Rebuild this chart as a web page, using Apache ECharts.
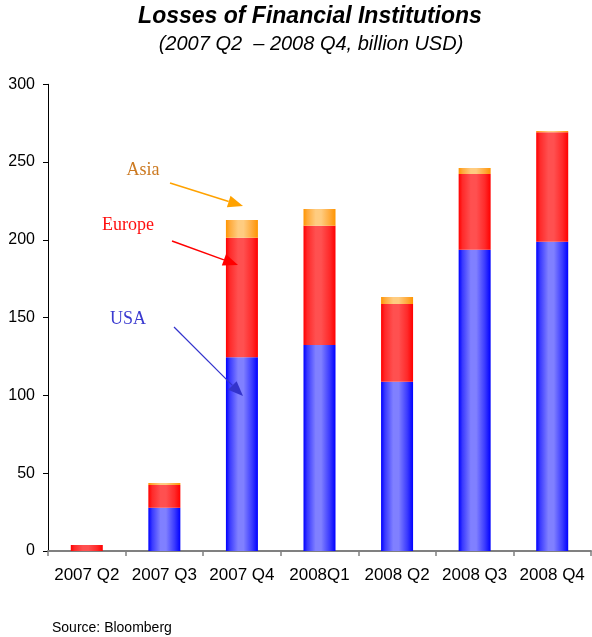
<!DOCTYPE html>
<html>
<head>
<meta charset="utf-8">
<title>Losses of Financial Institutions</title>
<script src="https://cdn.jsdelivr.net/npm/echarts@6/dist/echarts.min.js"></script>
<style>
  html, body { margin: 0; padding: 0; background: #ffffff; }
  #chart { width: 592px; height: 637px; }
</style>
</head>
<body>
<div id="chart"></div>
<script>
// Quarterly write-downs by region, billion USD
const quarters = ['2007 Q2', '2007 Q3', '2007 Q4', '2008Q1', '2008 Q2', '2008 Q3', '2008 Q4'];
const usa    = [0,    27.8, 124.5, 132.4, 108.8, 193.7, 198.8];
const europe = [3.9,  14.6,  76.9,  76.7,  50.0,  48.6,  70.3];
const asia   = [0,     1.3,  11.4,  10.7,   4.5,   3.9,   0.9];
const yTicks = [0, 50, 100, 150, 200, 250, 300];

const FONT = '"Liberation Sans", Arial, sans-serif';
const SERIF = '"Liberation Serif", "Times New Roman", serif';

// Horizontal "cylinder" shading used by every bar segment
function shade(edge, mid, light) {
  return new echarts.graphic.LinearGradient(0, 0, 1, 0, [
    { offset: 0.0, color: edge },
    { offset: 0.12, color: mid },
    { offset: 0.38, color: light },
    { offset: 0.55, color: light },
    { offset: 0.82, color: mid },
    { offset: 1.0, color: edge }
  ]);
}

// Callout arrow: shaft plus filled triangular head, drawn above the bars
function arrow(x1, y1, x2, y2, color, width, headLen, headHalf) {
  const dx = x2 - x1, dy = y2 - y1;
  const len = Math.sqrt(dx * dx + dy * dy);
  const ux = dx / len, uy = dy / len;
  const bx = x2 - ux * headLen, by = y2 - uy * headLen;
  const px = -uy * headHalf, py = ux * headHalf;
  return [
    { type: 'line', z: 100, shape: { x1: x1, y1: y1, x2: bx, y2: by },
      style: { stroke: color, lineWidth: width } },
    { type: 'polygon', z: 100, shape: { points: [[x2, y2], [bx + px, by + py], [bx - px, by - py]] },
      style: { fill: color } }
  ];
}

function label(text, x, y, font, fill, align) {
  return { type: 'text', z: 100, style: { text: text, x: x, y: y,
    textAlign: align || 'center', textVerticalAlign: 'middle', font: font, fill: fill } };
}

const chart = echarts.init(document.getElementById('chart'), null, { renderer: 'canvas' });

const barBase = { type: 'bar', stack: 'total', barWidth: 32, animation: false };

chart.setOption({
  backgroundColor: '#ffffff',
  animation: false,
  grid: { left: 48, right: 1, top: 84.3, bottom: 86, containLabel: false },
  xAxis: {
    type: 'category',
    data: quarters,
    boundaryGap: true,
    axisLine: { show: true, lineStyle: { color: '#808080', width: 2 } },
    axisTick: { show: true, alignWithLabel: false, length: 5, lineStyle: { color: '#808080', width: 1.5 } },
    axisLabel: { color: '#000000', fontFamily: FONT, fontSize: 17, margin: 16,
      interval: 0, hideOverlap: false }
  },
  yAxis: {
    type: 'value',
    min: 0,
    max: 300,
    interval: 50,
    axisLine: { show: true, lineStyle: { color: '#000000', width: 1 } },
    axisTick: { show: true, length: 5, lineStyle: { color: '#000000', width: 1 } },
    axisLabel: {
      color: '#000000', fontFamily: FONT, fontSize: 16, margin: 13,
      formatter: function (v) { return yTicks.indexOf(v) >= 0 ? String(v) : ''; }
    },
    splitLine: { show: false }
  },
  series: [
    Object.assign({}, barBase, {
      name: 'USA', data: usa,
      itemStyle: { color: shade('#0000ff', '#3a3aff', '#8080ff') }
    }),
    Object.assign({}, barBase, {
      name: 'Europe', data: europe,
      itemStyle: { color: shade('#ff0000', '#ff2a2a', '#ff5050') }
    }),
    Object.assign({}, barBase, {
      name: 'Asia', data: asia,
      itemStyle: { color: shade('#ff9500', '#ffaa3a', '#ffcc80') }
    })
  ],
  graphic: [].concat(
    [
      label('Losses of Financial Institutions', 310, 17, 'italic bold 23px ' + FONT, '#000000'),
      label('(2007 Q2  \u2013 2008 Q4, billion USD)', 311, 44, 'italic 20px ' + FONT, '#000000'),
      label('Source: Bloomberg', 52, 628, '14px ' + FONT, '#000000', 'left'),
      label('Asia', 143, 170, '18px ' + SERIF, '#cc7a22'),
      label('Europe', 128, 225, '18px ' + SERIF, '#ff1010'),
      label('USA', 128, 319, '18px ' + SERIF, '#3a3ad0')
    ],
    arrow(170, 183, 243, 206, '#ffa200', 1.5, 15, 6),
    arrow(172, 241, 238, 265, '#ff0000', 1.5, 15, 6),
    arrow(174, 327, 243, 396, '#3333cc', 1.2, 15, 6)
  )
});
</script>
</body>
</html>
